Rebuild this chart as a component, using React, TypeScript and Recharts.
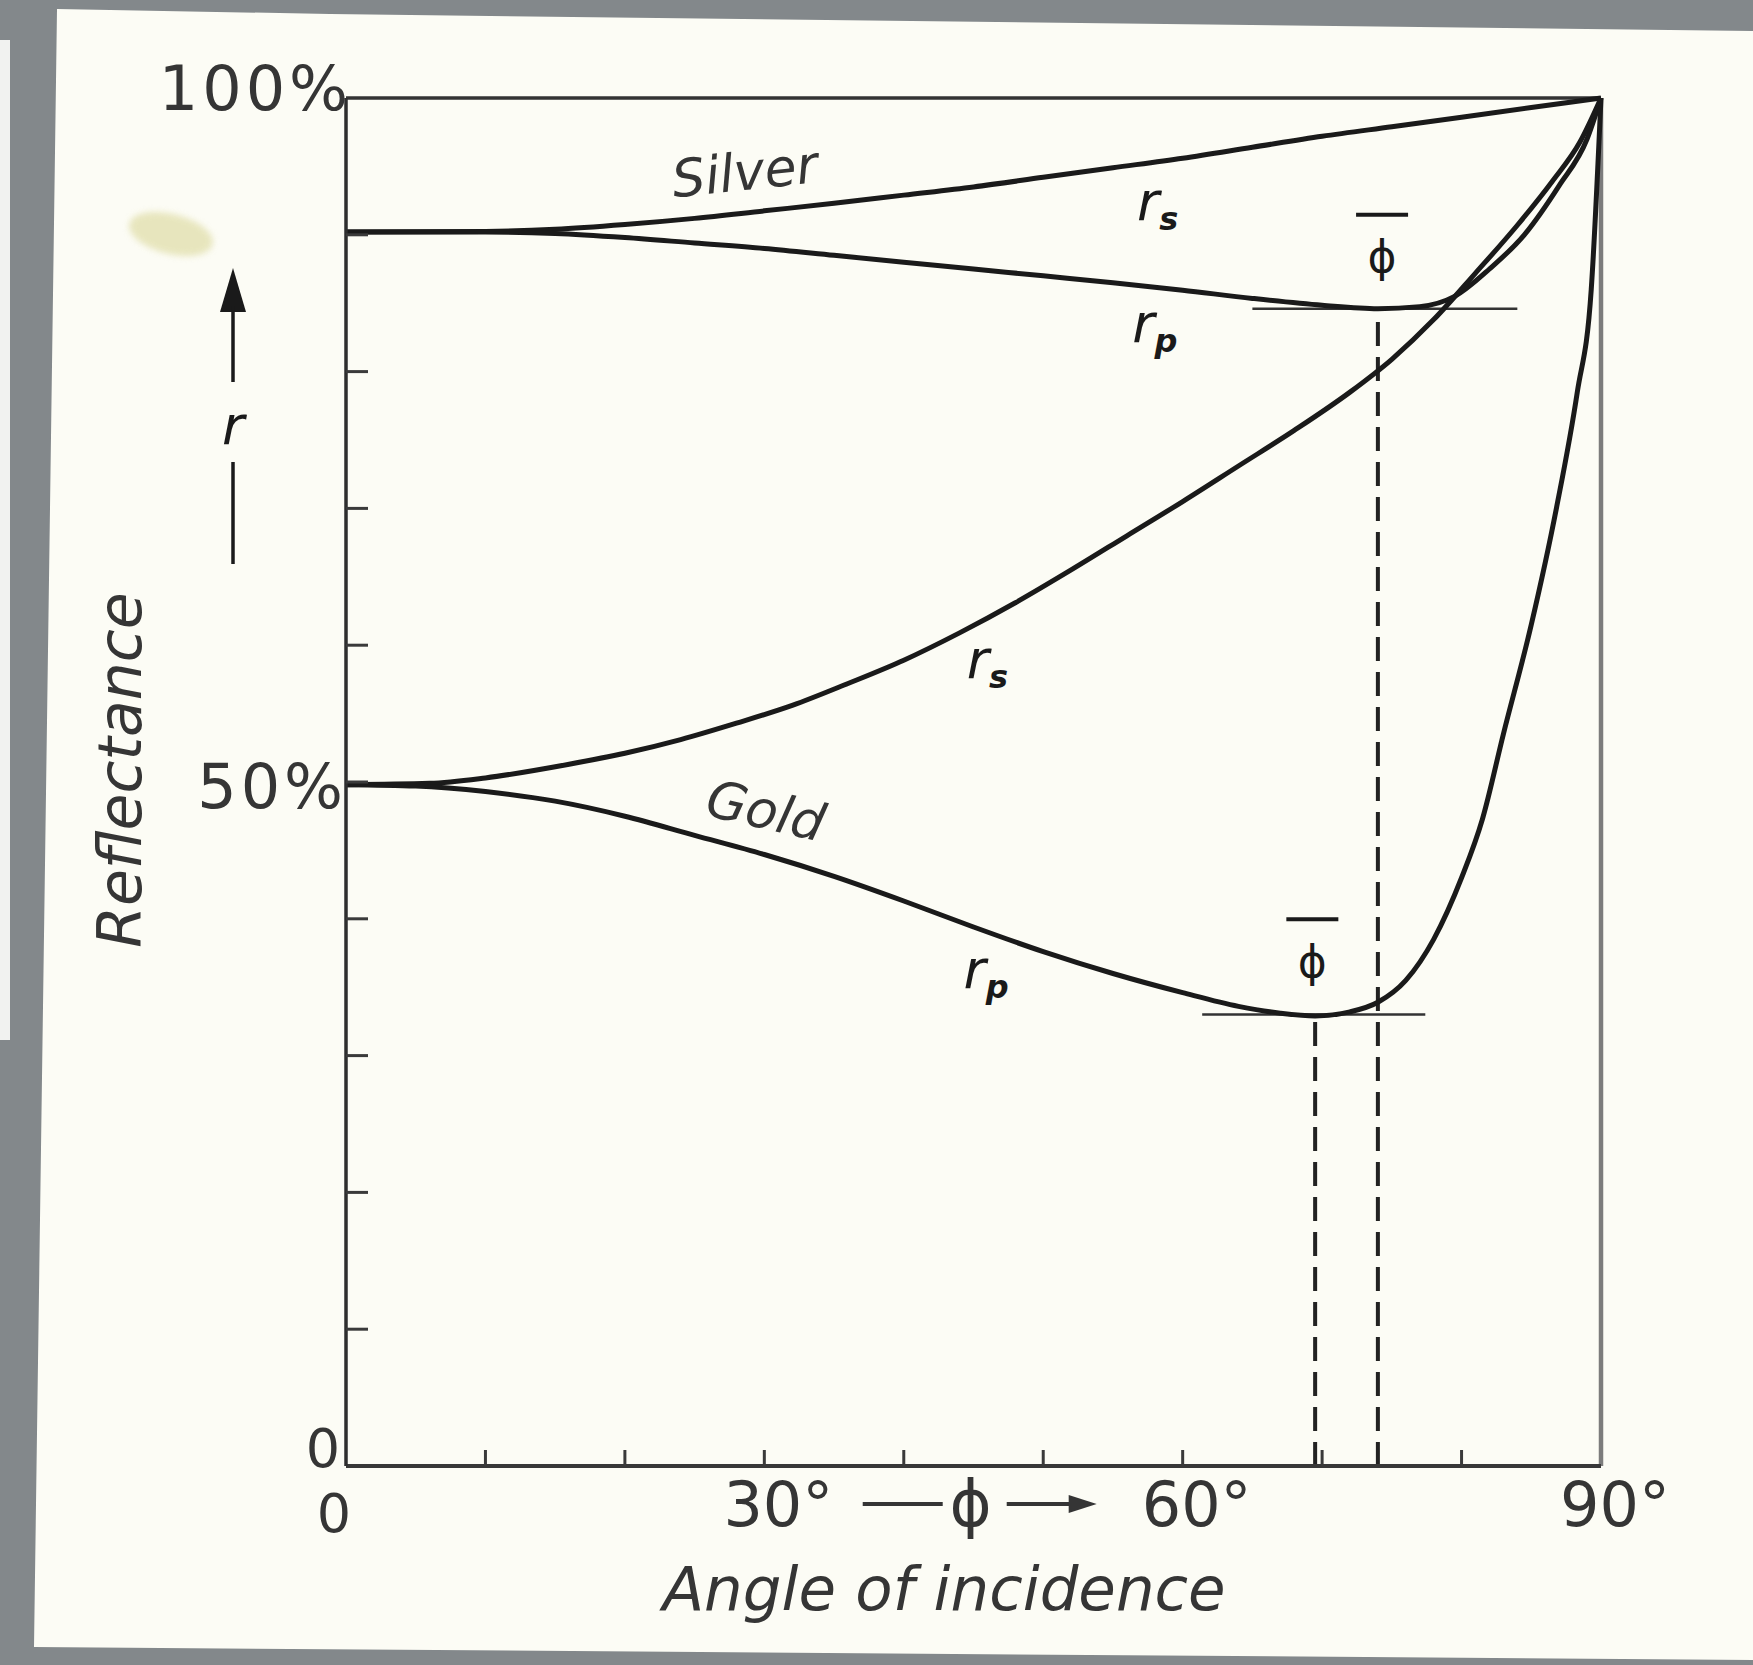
import React from 'react';
import {
  ComposedChart, Line, XAxis, YAxis, ReferenceLine, ReferenceDot,
} from 'recharts';

// angle of incidence (deg) / reflectance (%)
const silverRsAngle = [0, 10, 15, 20, 25, 30, 35, 40, 45, 50, 55, 60, 65, 70, 75, 80, 85, 90];
const silverRsValue = [90.2, 90.25, 90.4, 90.75, 91.2, 91.75, 92.3, 92.9, 93.5, 94.2, 94.9, 95.6, 96.4, 97.2, 97.9, 98.6, 99.3, 100];

const silverRpAngle = [0, 10, 15, 20, 25, 30, 35, 40, 45, 50, 55, 60, 65, 70, 74, 77, 79.5, 82, 84.5, 87, 89, 90];
const silverRpValue = [90.2, 90.2, 90.1, 89.8, 89.4, 89.0, 88.5, 88.0, 87.5, 87.0, 86.5, 85.95, 85.35, 84.85, 84.6, 84.75, 85.5, 87.5, 90.0, 93.6, 97.0, 100];

const goldRsAngle = [0, 6, 10, 16, 20, 24, 28, 32, 36, 40, 44, 48, 52, 56, 60, 64, 68, 72, 75, 78, 81, 84, 86.5, 88.5, 90];
const goldRsValue = [49.8, 49.9, 50.3, 51.3, 52.1, 53.1, 54.3, 55.6, 57.2, 58.9, 60.9, 63.1, 65.5, 68.0, 70.5, 73.1, 75.7, 78.5, 80.9, 83.8, 87.2, 90.7, 93.9, 96.8, 100];

const goldRpAngle = [0, 5, 10, 15, 20, 25, 30, 35, 40, 45, 50, 55, 60, 64, 67, 69.5, 72, 74, 76, 78, 80, 81.5, 83, 85, 86.8, 88.3, 89.3, 90];
const goldRpValue = [49.8, 49.7, 49.3, 48.6, 47.5, 46.1, 44.7, 43.1, 41.3, 39.4, 37.6, 36.0, 34.6, 33.6, 33.1, 32.9, 33.2, 33.9, 35.5, 38.5, 43.0, 47.3, 53.5, 61.5, 70.0, 78.5, 86.0, 100];

// principal angle (phi bar) and the reflectance minimum, silver then gold
const principalAngle = [74, 69.5];
const principalMin = [84.6, 33];
const levelFrom = [65, 61.4];
const levelTo = [84, 77.4];
const phiLabelValue = [88.4, 36.9];
const phiLabelAngle = [74.3, 69.3];

const angleTicks = [0, 10, 20, 30, 40, 50, 60, 70, 80, 90];
const angleLabels: Record<number, string> = { 0: '0', 30: '30°', 60: '60°', 90: '90°' };
const reflTicks = [0, 10, 20, 30, 40, 50, 60, 70, 80, 90, 100];
const reflLabels: Record<number, string> = { 0: '0', 50: '50%', 100: '100%' };

const metalNames = ['Silver', 'Gold'];
const metalNameAngle = [28.6, 30.1];
const metalNameValue = [94.6, 47.9];

const rSub = ['s', 'p', 's', 'p'];
const rLabelAngle = [58.2, 58.0, 46.0, 45.9];
const rLabelValue = [91.8, 82.9, 58.3, 35.7];

const phiArrowAngle = 44.8;

const toPoints = (a: number[], v: number[]) => a.map((angle, i) => ({ angle, r: v[i] }));

const FONT = '"DejaVu Sans", "Liberation Sans", sans-serif';
const INK = '#1a1a1a';
const TEXT = '#353535';

function AngleTick(props: any) {
  const { x, y, payload } = props;
  const v = payload.value as number;
  const label = angleLabels[v];
  const zero = v === 0;
  return (
    <g>
      {v > 0 && v < 90 && <line x1={x} x2={x} y1={y} y2={y - 16} stroke="#3a3a3a" strokeWidth={3} />}
      {label && (
        <text x={x + (zero ? -12 : 14)} y={y + (zero ? 66 : 60)} textAnchor="middle" fontFamily={FONT}
          fontSize={zero ? 54 : 62} fill={TEXT}>
          {label}
        </text>
      )}
    </g>
  );
}

function ReflTick(props: any) {
  const { x, y, payload } = props;
  const v = payload.value as number;
  const label = reflLabels[v];
  const dx = v === 100 ? 6 : v === 50 ? 1 : -6;
  const dy = v === 100 ? 12 : v === 50 ? 26 : 1;
  return (
    <g>
      {v > 0 && v < 100 && <line x1={x} x2={x + 22} y1={y} y2={y} stroke="#3a3a3a" strokeWidth={3} />}
      {label && (
        <text x={x + dx} y={y + dy} textAnchor="end" fontFamily={FONT} fontSize={v === 0 ? 54 : 62}
          letterSpacing={v === 0 ? 0 : 4} fill={TEXT}>
          {label}
        </text>
      )}
    </g>
  );
}

const center = (viewBox: any) => ({
  cx: viewBox.x + (viewBox.width || 0) / 2,
  cy: viewBox.y + (viewBox.height || 0) / 2,
});

const nameLabel = (text: string) => (props: any) => {
  const { cx, cy } = center(props.viewBox);
  const rot = text === 'Gold' ? 13 : -6;
  return (
    <text x={cx} y={cy} textAnchor="middle" dominantBaseline="central" fontFamily={FONT}
      fontStyle="italic" fontSize={52} fill={TEXT} transform={`rotate(${rot} ${cx} ${cy})`}>
      {text}
    </text>
  );
};

const rLabel = (sub: string) => (props: any) => {
  const { cx, cy } = center(props.viewBox);
  return (
    <text x={cx} y={cy + 10} textAnchor="middle" fontFamily={FONT} fontStyle="italic"
      fontSize={54} fill={INK}>
      r<tspan fontSize={32} dy={10} fontWeight="bold">{sub}</tspan>
    </text>
  );
};

const phiLabel = (props: any) => {
  const { cx, cy } = center(props.viewBox);
  return (
    <g>
      <line x1={cx - 26} x2={cx + 26} y1={cy - 42} y2={cy - 42} stroke={INK} strokeWidth={4} />
      <text x={cx} y={cy} textAnchor="middle" dominantBaseline="central" fontFamily={FONT}
        fontSize={44} fill={INK}>ϕ</text>
    </g>
  );
};

const phiArrow = (props: any) => {
  const { cx, cy } = center(props.viewBox);
  const my = cy + 38;
  return (
    <g stroke={TEXT} fill={TEXT}>
      <line x1={cx - 108} x2={cx - 28} y1={my} y2={my} strokeWidth={4} />
      <text x={cx} y={cy + 60} textAnchor="middle" fontFamily={FONT} fontSize={64} stroke="none">ϕ</text>
      <line x1={cx + 36} x2={cx + 104} y1={my} y2={my} strokeWidth={4} />
      <path d={`M${cx + 126},${my} L${cx + 98},${my - 9} L${cx + 98},${my + 9} Z`} stroke="none" />
    </g>
  );
};

const xTitle = (props: any) => {
  const vb = props.viewBox;
  return (
    <text x={vb.x + 598} y={vb.y + 144} textAnchor="middle" fontFamily={FONT} fontStyle="italic"
      fontSize={61} fill={TEXT}>
      Angle of incidence
    </text>
  );
};

const yTitle = (props: any) => {
  const vb = props.viewBox;
  const tx = vb.x - 145;
  const ty = vb.y + 672;
  const ax = vb.x - 53;
  const top = vb.y;
  return (
    <g>
      <text x={tx} y={ty} textAnchor="middle" fontFamily={FONT} fontStyle="italic" fontSize={60}
        fill={TEXT} transform={`rotate(-90 ${tx} ${ty})`}>
        Reflectance
      </text>
      <path d={`M${ax},${top + 170} L${ax - 13},${top + 214} L${ax + 13},${top + 214} Z`} fill={INK} />
      <line x1={ax} x2={ax} y1={top + 208} y2={top + 284} stroke={INK} strokeWidth={3.5} />
      <text x={ax} y={top + 346} textAnchor="middle" fontFamily={FONT} fontStyle="italic" fontSize={54}
        fill={INK}>r</text>
      <line x1={ax} x2={ax} y1={top + 364} y2={top + 466} stroke={INK} strokeWidth={3.5} />
    </g>
  );
};

export default function App() {
  const curves = [
    toPoints(silverRsAngle, silverRsValue),
    toPoints(silverRpAngle, silverRpValue),
    toPoints(goldRsAngle, goldRsValue),
    toPoints(goldRpAngle, goldRpValue),
  ];

  return (
    <div style={{ position: 'absolute', left: 0, top: 0, width: 1753, height: 1665, background: '#83888b', overflow: 'hidden' }}>
      <div style={{
        position: 'absolute', inset: 0, background: '#fcfcf5',
        clipPath: 'polygon(57px 9px, 330px 14px, 1753px 31px, 1753px 1660px, 34px 1647px)',
      }} />
      <div style={{ position: 'absolute', left: 0, top: 40, width: 10, height: 1000, background: '#f1f2f0' }} />
      <div style={{
        position: 'absolute', left: 128, top: 214, width: 86, height: 40, borderRadius: '50%',
        background: '#e4e2b4', transform: 'rotate(14deg)', filter: 'blur(3px)', opacity: 0.85,
      }} />
      <div style={{ position: 'absolute', left: 0, top: 0 }}>
        <ComposedChart width={1753} height={1665} margin={{ top: 98, right: 152, bottom: 139, left: 286 }}>
          <XAxis
            dataKey="angle" type="number" domain={[0, 90]} ticks={angleTicks} interval={0}
            height={60} tickLine={false} tickSize={0} tickMargin={0}
            axisLine={{ stroke: '#383838', strokeWidth: 4 }} tick={<AngleTick />}
            label={{ content: xTitle }}
          />
          <YAxis
            type="number" domain={[0, 100]} ticks={reflTicks} interval={0}
            width={60} tickLine={false} tickSize={0} tickMargin={0}
            axisLine={{ stroke: '#2e2e2e', strokeWidth: 3.5 }} tick={<ReflTick />}
            label={{ content: yTitle }}
          />
          <ReferenceLine y={100} stroke="#333" strokeWidth={3.5} />
          <ReferenceLine x={90} stroke="#7c7c7c" strokeWidth={4.5} />

          {principalAngle.map((a, i) => (
            <ReferenceLine key={`d${i}`} segment={[{ x: a, y: 0 }, { x: a, y: principalMin[i] }]}
              stroke="#222" strokeWidth={4} strokeDasharray="24 11" />
          ))}
          {principalMin.map((m, i) => (
            <ReferenceLine key={`l${i}`} segment={[{ x: levelFrom[i], y: m }, { x: levelTo[i], y: m }]}
              stroke="#333" strokeWidth={2.5} />
          ))}

          {curves.map((pts, i) => (
            <Line key={i} data={pts} dataKey="r" type="monotone" stroke={INK} strokeWidth={5}
              dot={false} activeDot={false} isAnimationActive={false} />
          ))}

          {metalNames.map((n, i) => (
            <ReferenceDot key={n} x={metalNameAngle[i]} y={metalNameValue[i]} r={0} fill="none" stroke="none"
              label={nameLabel(n)} />
          ))}
          {rSub.map((s, i) => (
            <ReferenceDot key={`r${i}`} x={rLabelAngle[i]} y={rLabelValue[i]} r={0} fill="none" stroke="none"
              label={rLabel(s)} />
          ))}
          {phiLabelAngle.map((a, i) => (
            <ReferenceDot key={`p${i}`} x={a} y={phiLabelValue[i]} r={0} fill="none" stroke="none"
              label={phiLabel} />
          ))}
          <ReferenceDot x={phiArrowAngle} y={0} r={0} fill="none" stroke="none" ifOverflow="visible"
            label={phiArrow} />
        </ComposedChart>
      </div>
    </div>
  );
}
